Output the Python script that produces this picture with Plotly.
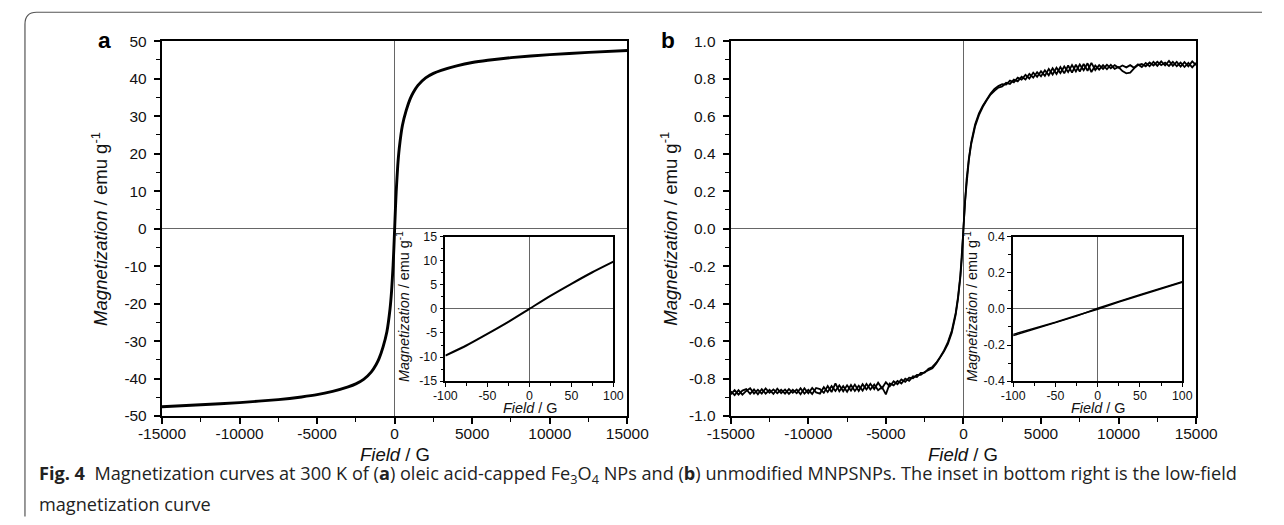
import plotly.graph_objects as go

W, H = 1284, 525
# the photographed page is slightly larger than the figure (body margin), so the
# picture is scaled by S and shifted by SX; layout positions below are given in
# final-picture pixels and converted back to figure coordinates.
S, SX, MARGIN = 0.9704, 11.5, 8

# ---------------- data ----------------
# Panel a: oleic acid-capped Fe3O4 NPs (main loop)
field_a = [-15000, -12500, -10000, -7500, -6000, -5000, -4000, -3000, -2500, -2000, -1500, -1200, -1000,
           -750, -500, -300, -200, -100, -50, 0, 50, 100, 200, 300, 500, 750, 1000, 1200, 1500, 2000,
           2500, 3000, 4000, 5000, 6000, 7500, 10000, 12500, 15000]
mag_a = [-47.5, -47.0, -46.4, -45.6, -44.9, -44.3, -43.4, -42.2, -41.4, -40.2, -38.2, -36.3, -34.6,
         -31.6, -27.5, -21.5, -16.8, -9.8, -5.2, 0.0, 5.2, 9.8, 16.8, 21.5, 27.5, 31.6, 34.6, 36.3,
         38.2, 40.2, 41.4, 42.2, 43.4, 44.3, 44.9, 45.6, 46.4, 47.0, 47.5]

# Panel a inset: low-field region
field_a_in = [-100, -75, -50, -25, 0, 25, 50, 75, 100]
mag_a_in = [-9.7, -7.6, -5.2, -2.7, 0.0, 2.7, 5.2, 7.6, 9.8]

# Panel b: unmodified MNPSNPs (two sweep branches)
field_b = [-15000, -14750, -14500, -14250, -14000, -13750, -13500, -13250, -13000, -12750, -12500,
           -12250, -12000, -11750, -11500, -11250, -11000, -10750, -10500, -10250, -10000, -9750,
           -9500, -9250, -9000, -8750, -8500, -8250, -8000, -7750, -7500, -7250, -7000, -6750,
           -6500, -6250, -6000, -5750, -5500, -5250, -5000, -4750, -4500, -4250, -4000, -3750,
           -3500, -3250, -3000, -2750, -2500, -2250, -2000,
           -1750, -1500, -1250, -1000, -750, -500, -350, -200, -100, 0, 100, 200, 350, 500, 750,
           1000, 1250, 1500, 1750,
           2000, 2250, 2500, 2750, 3000, 3250, 3500, 3750, 4000, 4250, 4500, 4750, 5000, 5250,
           5500, 5750, 6000, 6250, 6500, 6750, 7000, 7250, 7500, 7750, 8000, 8250, 8500, 8750,
           9000, 9250, 9500, 9750, 10000, 10250, 10500, 10750, 11000, 11250, 11500, 11750, 12000,
           12250, 12500, 12750, 13000, 13250, 13500, 13750, 14000, 14250, 14500, 14750, 15000]
mag_b_down = [-0.868, -0.888, -0.862, -0.886, -0.866, -0.852, -0.880, -0.860, -0.880, -0.852, -0.876,
              -0.858, -0.878, -0.860, -0.880, -0.856, -0.876, -0.858, -0.884, -0.852, -0.878, -0.850,
              -0.874, -0.880, -0.846, -0.872, -0.840, -0.866, -0.836, -0.868, -0.836, -0.864, -0.832,
              -0.866, -0.830, -0.858, -0.828, -0.856, -0.822, -0.852, -0.820, -0.842, -0.814, -0.830,
              -0.805, -0.818, -0.795, -0.798, -0.780, -0.780, -0.765, -0.755, -0.745,
              -0.720, -0.690, -0.655, -0.615, -0.555, -0.460, -0.375, -0.260, -0.155, 0.005,
              0.155, 0.260, 0.375, 0.460, 0.555, 0.615, 0.655, 0.690, 0.720,
              0.745, 0.760, 0.770, 0.768, 0.790, 0.780, 0.805, 0.795, 0.820, 0.800, 0.832, 0.810,
              0.840, 0.815, 0.852, 0.822, 0.858, 0.830, 0.865, 0.835, 0.872, 0.838, 0.875, 0.845,
              0.882, 0.835, 0.870, 0.848, 0.872, 0.850, 0.874, 0.852, 0.862, 0.840, 0.828, 0.832,
              0.855, 0.872, 0.878, 0.866, 0.886, 0.870, 0.890, 0.872, 0.886, 0.868, 0.890, 0.866,
              0.886, 0.862, 0.884, 0.860, 0.884]
mag_b_up = [-0.884, -0.862, -0.886, -0.864, -0.856, -0.882, -0.858, -0.884, -0.856, -0.880, -0.860,
            -0.882, -0.854, -0.878, -0.858, -0.882, -0.860, -0.878, -0.852, -0.880, -0.860, -0.882,
            -0.850, -0.856, -0.876, -0.840, -0.872, -0.826, -0.868, -0.840, -0.870, -0.834, -0.866,
            -0.838, -0.864, -0.828, -0.858, -0.832, -0.862, -0.846, -0.884, -0.826, -0.836, -0.812,
            -0.826, -0.800, -0.812, -0.788, -0.792, -0.770, -0.768, -0.748, -0.738,
            -0.715, -0.685, -0.650, -0.605, -0.545, -0.450, -0.365, -0.250, -0.145, -0.005,
            0.145, 0.250, 0.365, 0.450, 0.545, 0.605, 0.650, 0.685, 0.715,
            0.735, 0.752, 0.758, 0.778, 0.772, 0.795, 0.785, 0.810, 0.795, 0.825, 0.805, 0.835,
            0.812, 0.845, 0.818, 0.855, 0.825, 0.862, 0.828, 0.870, 0.832, 0.874, 0.838, 0.878,
            0.842, 0.884, 0.846, 0.872, 0.852, 0.874, 0.855, 0.872, 0.858, 0.870, 0.860, 0.872,
            0.858, 0.876, 0.862, 0.884, 0.866, 0.890, 0.868, 0.892, 0.870, 0.894, 0.868, 0.890,
            0.864, 0.888, 0.866, 0.892, 0.872]

# Panel b inset: low-field region (two branches)
field_b_in = [-100, -75, -50, -25, 0, 25, 50, 75, 100]
mag_b_in_down = [-0.148, -0.113, -0.078, -0.040, 0.003, 0.042, 0.079, 0.115, 0.150]
mag_b_in_up = [-0.141, -0.108, -0.074, -0.037, -0.002, 0.038, 0.075, 0.111, 0.147]

# tick labels
xt_main = [-15000, -10000, -5000, 0, 5000, 10000, 15000]
xt_main_txt = ["-15000", "-10000", "-5000", "0", "5000", "10000", "15000"]
yt_a = [-50, -40, -30, -20, -10, 0, 10, 20, 30, 40, 50]
yt_a_txt = ["-50", "-40", "-30", "-20", "-10", "0", "10", "20", "30", "40", "50"]
yt_b = [-1.0, -0.8, -0.6, -0.4, -0.2, 0.0, 0.2, 0.4, 0.6, 0.8, 1.0]
yt_b_txt = ["-1.0", "-0.8", "-0.6", "-0.4", "-0.2", "0.0", "0.2", "0.4", "0.6", "0.8", "1.0"]
xt_in = [-100, -50, 0, 50, 100]
xt_in_txt = ["-100", "-50", "0", "50", "100"]
yt_a_in = [-15, -10, -5, 0, 5, 10, 15]
yt_a_in_txt = ["-15", "-10", "-5", "0", "5", "10", "15"]
yt_b_in = [-0.4, -0.2, 0.0, 0.2, 0.4]
yt_b_in_txt = ["-0.4", "-0.2", "0.0", "0.2", "0.4"]

# ---------------- figure ----------------
def fig_x(X):
    return (X - SX) / S - MARGIN

def fig_y(Y):
    return Y / S - MARGIN

def px_x(X):
    return fig_x(X) / W

def px_y(Y):
    return 1 - fig_y(Y) / H

def fs(size):
    return size / S

FONT = "Liberation Sans, Arial, sans-serif"
TXT = "#111111"

fig = go.Figure()
fig.add_trace(go.Scatter(x=field_a, y=mag_a, mode="lines",
                         line=dict(color="black", width=2.9, shape="spline", smoothing=0.6),
                         xaxis="x", yaxis="y", showlegend=False))
fig.add_trace(go.Scatter(x=field_a_in, y=mag_a_in, mode="lines",
                         line=dict(color="black", width=2, shape="spline", smoothing=0.6),
                         xaxis="x2", yaxis="y2", showlegend=False))
fig.add_trace(go.Scatter(x=field_b, y=mag_b_down, mode="lines", line=dict(color="black", width=1.8),
                         xaxis="x3", yaxis="y3", showlegend=False))
fig.add_trace(go.Scatter(x=field_b, y=mag_b_up, mode="lines", line=dict(color="black", width=1.8),
                         xaxis="x3", yaxis="y3", showlegend=False))
fig.add_trace(go.Scatter(x=field_b_in, y=mag_b_in_down, mode="lines", line=dict(color="black", width=1.5),
                         xaxis="x4", yaxis="y4", showlegend=False))
fig.add_trace(go.Scatter(x=field_b_in, y=mag_b_in_up, mode="lines", line=dict(color="black", width=1.5),
                         xaxis="x4", yaxis="y4", showlegend=False))


def main_axis(domain, rng, tv, tt, minor_dt, anchor, standoff):
    return dict(domain=domain, range=rng, tickmode="array", tickvals=tv, ticktext=tt,
                showline=True, linecolor="black", linewidth=2.3, mirror=True,
                ticks="outside", ticklen=6, tickwidth=1.6, tickcolor="black",
                minor=dict(dtick=minor_dt, tick0=0, ticks="outside", ticklen=4, tickwidth=1.4,
                           tickcolor="black", showgrid=False),
                showgrid=False, zeroline=True, zerolinecolor="#666", zerolinewidth=1,
                ticklabelstandoff=standoff,
                tickfont=dict(family=FONT, size=fs(15), color=TXT), anchor=anchor, fixedrange=True)


def inset_axis(domain, rng, tv, tt, minor_dt, anchor, standoff):
    return dict(domain=domain, range=rng, tickmode="array", tickvals=tv, ticktext=tt,
                showline=True, linecolor="black", linewidth=1.7, mirror=True,
                ticks="outside", ticklen=4, tickwidth=1.2, tickcolor="black",
                minor=dict(dtick=minor_dt, tick0=0, ticks="outside", ticklen=3, tickwidth=1.1,
                           tickcolor="black", showgrid=False),
                showgrid=False, zeroline=True, zerolinecolor="#666", zerolinewidth=1,
                ticklabelstandoff=standoff,
                tickfont=dict(family=FONT, size=fs(12), color=TXT), anchor=anchor, fixedrange=True)


xa_main = [px_x(158), px_x(626)]
xb_main = [px_x(730), px_x(1198)]
y_main = [px_y(416), px_y(40)]
xa_in = [px_x(443), px_x(612)]
xb_in = [px_x(1014), px_x(1184)]
y_in = [px_y(381), px_y(236)]

fig.update_layout(
    width=W, height=H, autosize=False,
    margin=dict(l=0, r=0, t=0, b=0),
    paper_bgcolor="white", plot_bgcolor="white",
    xaxis=main_axis(xa_main, [-15000, 15000], xt_main, xt_main_txt, 2500, "y", -4),
    yaxis=main_axis(y_main, [-50, 50], yt_a, yt_a_txt, 5, "x", 4),
    xaxis2=inset_axis(xa_in, [-100, 100], xt_in, xt_in_txt, 25, "y2", -2),
    yaxis2=inset_axis(y_in, [-15, 15], yt_a_in, yt_a_in_txt, 2.5, "x2", 0),
    xaxis3=main_axis(xb_main, [-15000, 15000], xt_main, xt_main_txt, 2500, "y3", -4),
    yaxis3=main_axis(y_main, [-1.0, 1.0], yt_b, yt_b_txt, 0.1, "x3", 4),
    xaxis4=inset_axis(xb_in, [-100, 100], xt_in, xt_in_txt, 25, "y4", -2),
    yaxis4=inset_axis(y_in, [-0.4, 0.4], yt_b_in, yt_b_in_txt, 0.1, "x4", 0),
)

ann = []
def add_text(x, y, text, size, angle=0, xanchor="center", yanchor="middle", color=TXT, family=FONT):
    ann.append(dict(x=px_x(x), y=px_y(y), xref="paper", yref="paper", text=text, showarrow=False,
                    textangle=angle, xanchor=xanchor, yanchor=yanchor,
                    font=dict(family=family, size=fs(size), color=color)))

ytitle = "<i>Magnetization</i> / emu g<sup>-1</sup>"
xtitle = "<i>Field</i> / G"
# main titles
add_text(95, 228, ytitle, 18, angle=-90)
add_text(668, 228, ytitle, 18, angle=-90)
add_text(392, 454.5, xtitle, 18)
add_text(964, 454.5, xtitle, 18)
# inset titles
add_text(401, 306, ytitle, 14, angle=-90)
add_text(972, 306, ytitle, 14, angle=-90)
add_text(528, 408, xtitle, 14)
add_text(1099, 408, xtitle, 14)
# panel labels
add_text(100, 39, "<b>a</b>", 22, color="black")
add_text(667, 39, "<b>b</b>", 22, color="black")
# caption
CAP = "Open Sans, Noto Sans, sans-serif"
add_text(32, 475, "<b>Fig. 4</b>  Magnetization curves at 300 K of (<b>a</b>) oleic acid-capped Fe<sub>3</sub>O<sub>4</sub> NPs "
         "and (<b>b</b>) unmodified MNPSNPs. The inset in bottom right is the low-field", 17.6,
         xanchor="left", color="#222", family=CAP)
add_text(32, 504, "magnetization curve", 17.6, xanchor="left", color="#222", family=CAP)
fig.update_layout(annotations=ann)

# outer rounded frame (top-left corner visible), kept inside the figure
r = 12
x0 = max(px_x(10), 1.0 / W)
y_top = px_y(11)
path = (f"M {x0},{0.5 / H} L {x0},{px_y(11 + r)} "
        f"Q {x0},{y_top} {x0 + r / W},{y_top} L {1 - 1.0 / W},{y_top}")
fig.add_shape(type="path", path=path, xref="paper", yref="paper",
              line=dict(color="#555", width=1.2), layer="above")

fig.write_html("out.html")
